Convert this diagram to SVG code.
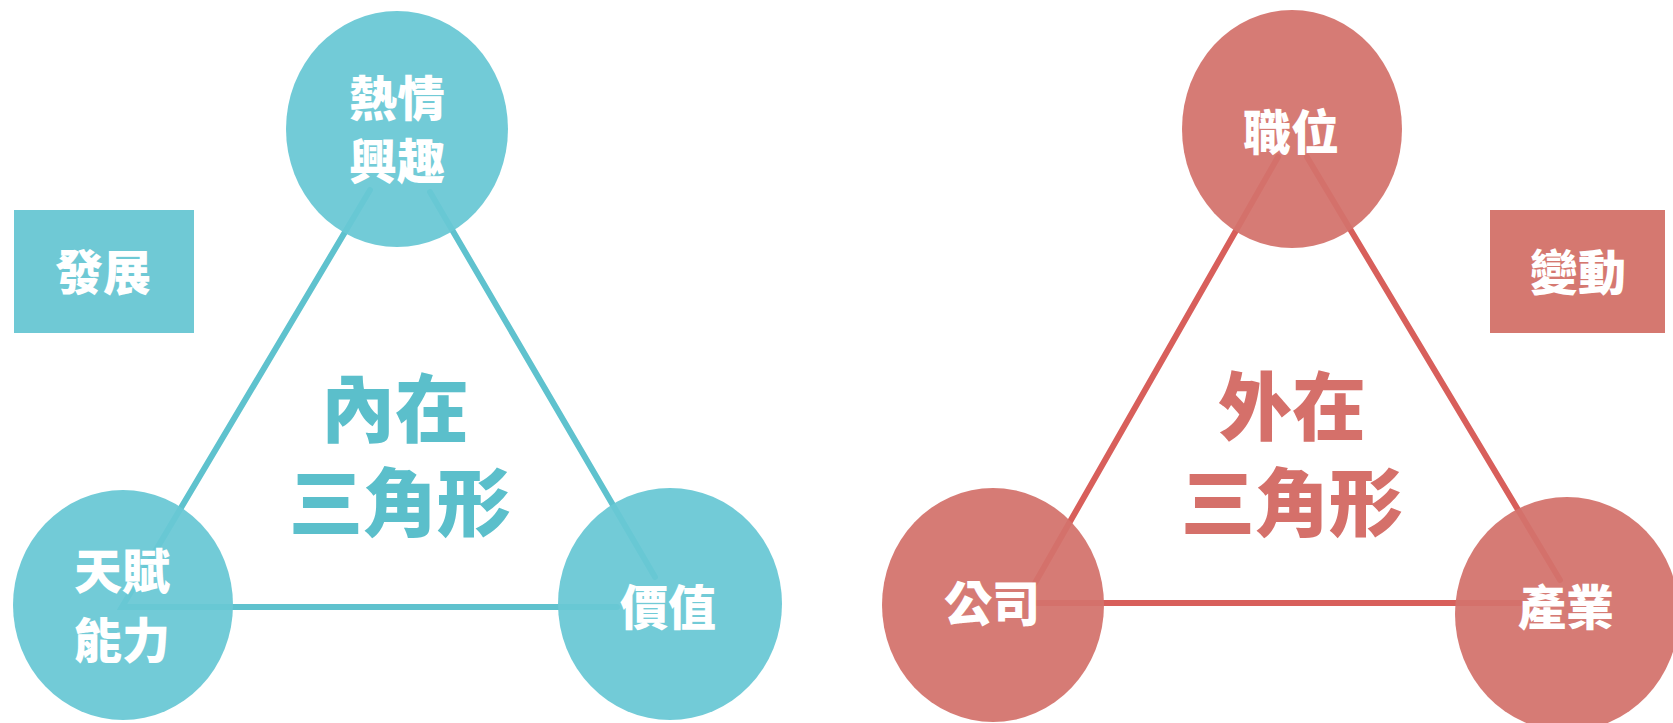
<svg xmlns="http://www.w3.org/2000/svg" width="1673" height="723" viewBox="0 0 1673 723">
<style>
.t{font-family:"Noto Sans CJK TC","Noto Sans CJK SC",sans-serif;font-weight:900;text-anchor:middle}
.w{fill:#ffffff;font-size:48px}
.big{font-size:74px}
.cb{fill:#69c8d4;fill-opacity:0.94}
.cr{fill:#d3736c;fill-opacity:0.94}
.lb{stroke:#5fc2ce;stroke-width:6;fill:none;stroke-linecap:round}
.lr{stroke:#d85f5b;stroke-width:6;fill:none;stroke-linecap:round}
</style>
<rect width="1673" height="723" fill="#ffffff"/>
<g id="connectors">
<path class="lb" d="M370 190 L122 607 L617 607 M430 192 L655 577"/>
<path class="lr" d="M1278 157 L1035 583 M1037 603 L1520 603 M1307 157 L1560 580"/>
</g>
<g id="left-top"><ellipse class="cb" cx="397" cy="129" rx="111" ry="118"/><text class="t w" x="397" y="116">熱情</text><text class="t w" x="397" y="179">興趣</text></g>
<g id="left-bl"><ellipse class="cb" cx="123" cy="605" rx="110" ry="115"/><text class="t w" x="122" y="589">天賦</text><text class="t w" x="122" y="658">能力</text></g>
<g id="left-br"><ellipse class="cb" cx="670" cy="604" rx="112" ry="116"/><text class="t w" x="668" y="625">價值</text></g>
<g id="left-box"><rect x="14" y="210" width="180" height="123" fill="#6fc9d5"/><text class="t w" x="103" y="290">發展</text></g>
<g id="left-center"><text class="t big" fill="#5bbfcb" x="395" y="436">內在</text><text class="t big" fill="#5bbfcb" x="400" y="530">三角形</text></g>
<g id="right-top"><ellipse class="cr" cx="1292" cy="129" rx="110" ry="119"/><text class="t w" x="1291" y="150">職位</text></g>
<g id="right-bl"><ellipse class="cr" cx="993" cy="605" rx="111" ry="117"/><text class="t w" x="992" y="621">公司</text></g>
<g id="right-br"><ellipse class="cr" cx="1567" cy="614" rx="112" ry="117"/><text class="t w" x="1566" y="625">產業</text></g>
<g id="right-box"><rect x="1490" y="210" width="175" height="123" fill="#d57870"/><text class="t w" x="1578" y="290">變動</text></g>
<g id="right-center"><text class="t big" fill="#d5706a" x="1292" y="434">外在</text><text class="t big" fill="#d5706a" x="1292" y="530">三角形</text></g>
</svg>
